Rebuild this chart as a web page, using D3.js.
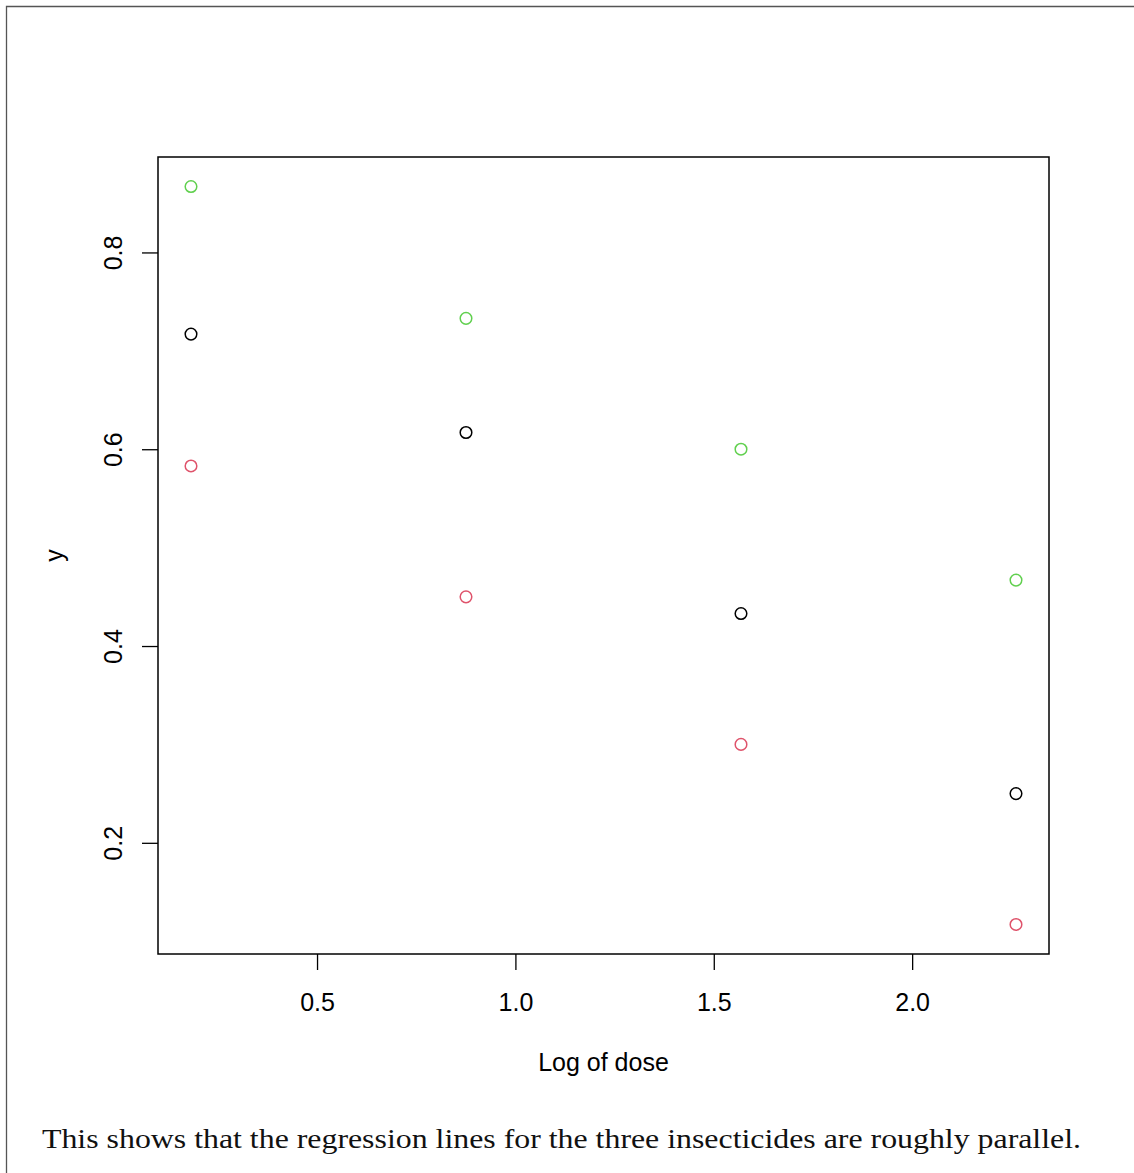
<!DOCTYPE html>
<html>
<head>
<meta charset="utf-8">
<title>Log of dose</title>
<script src="https://d3js.org/d3.v7.min.js"></script>
<style>
  body { margin: 0; background: #fff; }
</style>
</head>
<body>
<div id="chart"></div>
<script>
// log of dose for each of the three insecticides
var logDose = [Math.log(1.2), Math.log(2.4), Math.log(4.8), Math.log(9.6)];
var seriesBlack = [0.717, 0.617, 0.433, 0.250];
var seriesRed   = [0.583, 0.450, 0.300, 0.117];
var seriesGreen = [0.867, 0.733, 0.600, 0.467];
var xTicks = [0.5, 1.0, 1.5, 2.0];
var yTicks = [0.2, 0.4, 0.6, 0.8];
var caption = "This shows that the regression lines for the three insecticides are roughly parallel.";

var sans = "'Liberation Sans', Arial, sans-serif";
var W = 1134, H = 1173;
var margin = {top: 157, right: 85, bottom: 219, left: 158},
    width = W - margin.left - margin.right,
    height = H - margin.top - margin.bottom;

var svg = d3.select("#chart").append("svg")
    .attr("width", W).attr("height", H);

// outer frame (only left and top edges are visible)
svg.append("path")
  .attr("d", "M6.5," + H + "V6.5H" + W)
  .attr("fill", "none").attr("stroke", "#555").attr("stroke-width", 1.3);

var g = svg.append("g")
  .attr("transform", "translate(" + margin.left + "," + margin.top + ")");

// R style 4% padding on both axes
var allY = seriesBlack.concat(seriesRed, seriesGreen);
var xr = d3.extent(logDose), yr = d3.extent(allY);
var xp = (xr[1] - xr[0]) * 0.04, yp = (yr[1] - yr[0]) * 0.04;

var x = d3.scaleLinear().domain([xr[0] - xp, xr[1] + xp]).range([0, width]);
var y = d3.scaleLinear().domain([yr[0] - yp, yr[1] + yp]).range([height, 0]);

// x axis
var xa = g.append("g")
  .attr("transform", "translate(0," + height + ")")
  .call(d3.axisBottom(x).tickValues(xTicks).tickFormat(d3.format(".1f"))
        .tickSize(16).tickPadding(23));
xa.select(".domain").remove();
xa.selectAll("line").attr("stroke", "#000").attr("stroke-width", 1.3);
xa.selectAll("text").style("font-size", "25px").style("font-family", sans).attr("fill", "#000");

// y axis, labels rotated like R
var ya = g.append("g")
  .call(d3.axisLeft(y).tickValues(yTicks).tickFormat(d3.format(".1f")).tickSize(16));
ya.select(".domain").remove();
ya.selectAll("line").attr("stroke", "#000").attr("stroke-width", 1.3);
ya.selectAll("text").remove();
ya.selectAll(".tick").append("text")
  .attr("transform", "translate(-36,0) rotate(-90)")
  .attr("text-anchor", "middle")
  .style("font-size", "25px").style("font-family", sans).attr("fill", "#000")
  .text(function(d) { return d3.format(".1f")(d); });

// plot box
g.append("rect")
  .attr("width", width).attr("height", height)
  .attr("fill", "none").attr("stroke", "#000").attr("stroke-width", 1.5);

// axis titles
g.append("text")
  .attr("x", width / 2).attr("y", height + 117)
  .attr("text-anchor", "middle")
  .style("font-size", "25px").style("font-family", sans)
  .text("Log of dose");
g.append("text")
  .attr("transform", "translate(-95," + (height / 2) + ") rotate(-90)")
  .attr("text-anchor", "middle")
  .style("font-size", "25px").style("font-family", sans)
  .text("y");

// points
var groups = [
  {vals: seriesBlack, col: "#000000"},
  {vals: seriesRed, col: "#DF536B"},
  {vals: seriesGreen, col: "#61D04F"}
];
groups.forEach(function(s) {
  g.append("g").selectAll("circle")
    .data(s.vals)
    .enter().append("circle")
      .attr("cx", function(d, i) { return x(logDose[i]); })
      .attr("cy", function(d) { return y(d); })
      .attr("r", 5.8)
      .attr("fill", "none")
      .attr("stroke", s.col)
      .attr("stroke-width", 1.5);
});

// caption below the figure
svg.append("text")
  .attr("x", 42).attr("y", 1148)
  .style("font-family", "'Liberation Serif', 'DejaVu Serif', serif")
  .style("font-size", "28px")
  .attr("textLength", 1039).attr("lengthAdjust", "spacingAndGlyphs")
  .attr("fill", "#111")
  .text(caption);
</script>
</body>
</html>
